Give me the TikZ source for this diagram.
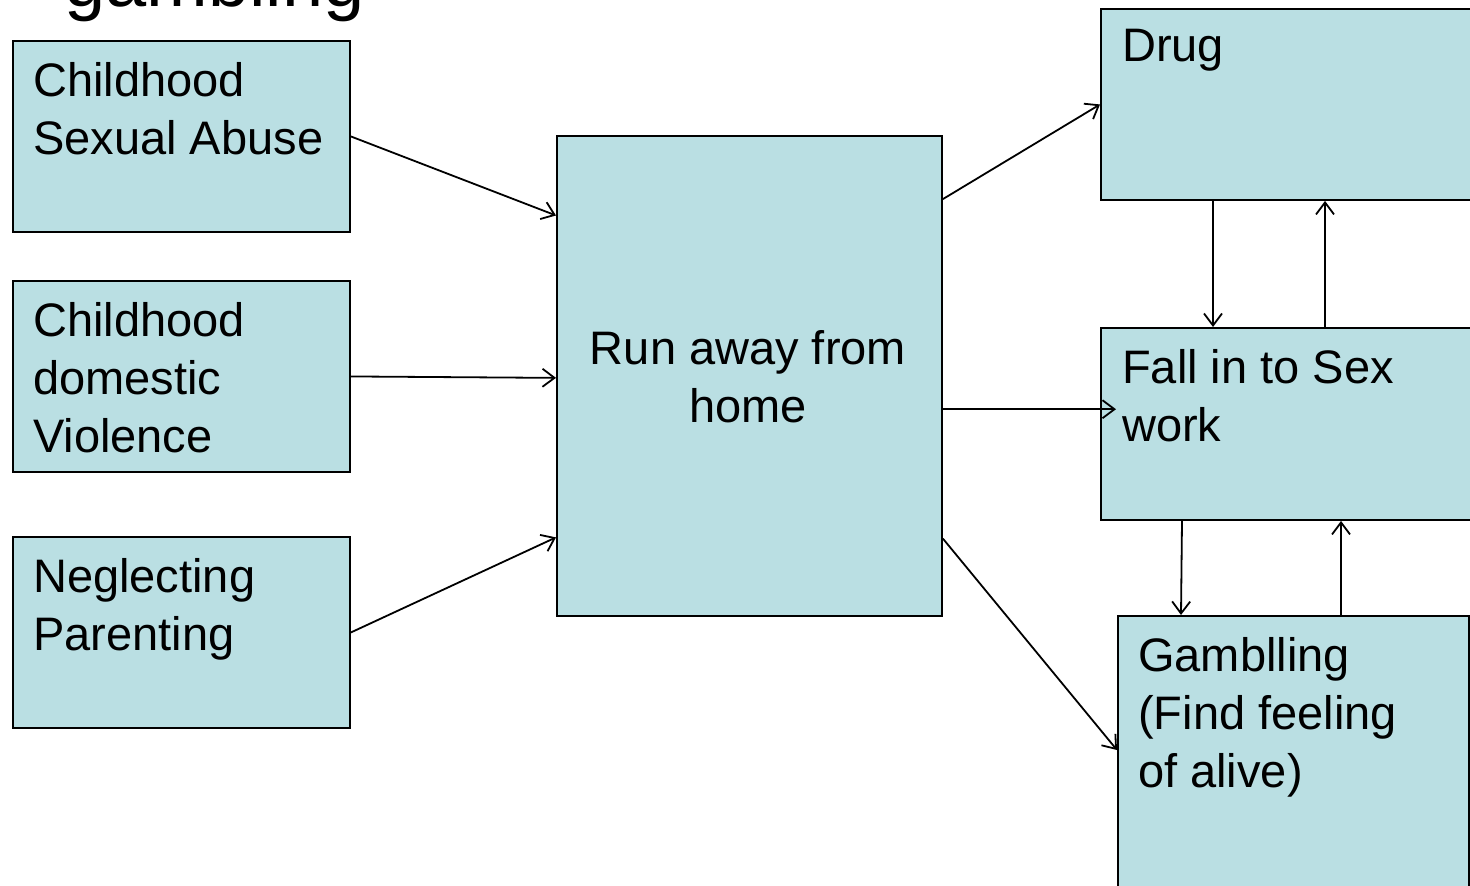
\documentclass[tikz,border=0pt]{standalone}
\usepackage{fontspec}
\setmainfont{Liberation Sans}
\usetikzlibrary{arrows.meta,calc}
\definecolor{boxfill}{RGB}{186,223,227}
\tikzset{
  box/.style={draw=black, fill=boxfill, line width=1.9pt, inner sep=0pt,
    anchor=north west, rectangle},
  boxtext/.style={inner sep=0pt, align=left, anchor=north west,
    font=\fontsize{47}{58}\selectfont},
  link/.style={line width=1.8pt, -{Straight Barb[length=12pt,width=18pt,line width=1.8pt]}},
}
\begin{document}
\begin{tikzpicture}[x=1pt,y=-1pt]
\useasboundingbox (0,0) rectangle (1470,886);
\clip (0,0) rectangle (1470,886);
\fill[white] (0,0) rectangle (1470,886);

% heading, cut by the top edge
\node[inner sep=0pt, anchor=base west, font=\fontsize{74}{80}\selectfont] (head) at (64,6) {gambling};

% causes
\node[box, minimum width=337pt, minimum height=191pt] (csa) at (12,40) {};
\node[box, minimum width=337pt, minimum height=191pt] (cdv) at (12,280) {};
\node[box, minimum width=337pt, minimum height=191pt] (np)  at (12,536) {};
\node[boxtext] (csat) at (33,62)  {Childhood\\Sexual Abuse};
\node[boxtext] (cdvt) at (33,302) {Childhood\\domestic\\Violence};
\node[boxtext] (npt)  at (33,558) {Neglecting\\Parenting};

% central event
\node[box, minimum width=385pt, minimum height=480pt] (run) at (556,135) {};
\node[boxtext, align=center, anchor=north] (runt) at (748,330) {Run away from\\home};

% outcomes
\node[box, minimum width=380pt, minimum height=191pt] (drug) at (1100,8) {};
\node[box, minimum width=380pt, minimum height=192pt] (fall) at (1100,327) {};
\node[box, minimum width=351pt, minimum height=285pt] (gamb) at (1117,615) {};
\node[boxtext] (drugt) at (1122,29)  {Drug};
\node[boxtext] (fallt) at (1122,349) {Fall in to Sex\\work};
\node[boxtext] (gambt) at (1138,637) {Gamblling\\(Find feeling\\of alive)};

% causes lead to running away
\draw[link] (csa.east) -- ($(run.north west)!0.167!(run.south west)$);
\draw[link] (cdv.east) -- ($(run.north west)!0.504!(run.south west)$);
\draw[link] (np.east)  -- ($(run.north west)!0.835!(run.south west)$);

% running away leads to the outcomes
\draw[link] ($(run.north east)!0.133!(run.south east)$) -- (drug.west);
\coordinate (rf) at ($(run.north east)!0.569!(run.south east)$);
\draw[link] (rf) -- ([xshift=16pt]rf -| fall.west);
\draw[link] ($(run.north east)!0.8375!(run.south east)$) -- ([yshift=-135pt]gamb.north west);

% links between the outcomes
\draw[link] ([xshift=113pt]drug.south west) -- ([xshift=113pt]fall.north west);
\draw[link] ([xshift=225pt]fall.north west) -- ([xshift=225pt]drug.south west);
\draw[link] ([xshift=82pt]fall.south west) -- ([xshift=64pt]gamb.north west);
\draw[link] ([xshift=224pt]gamb.north west) -- ([xshift=241pt]fall.south west);
\end{tikzpicture}
\end{document}
